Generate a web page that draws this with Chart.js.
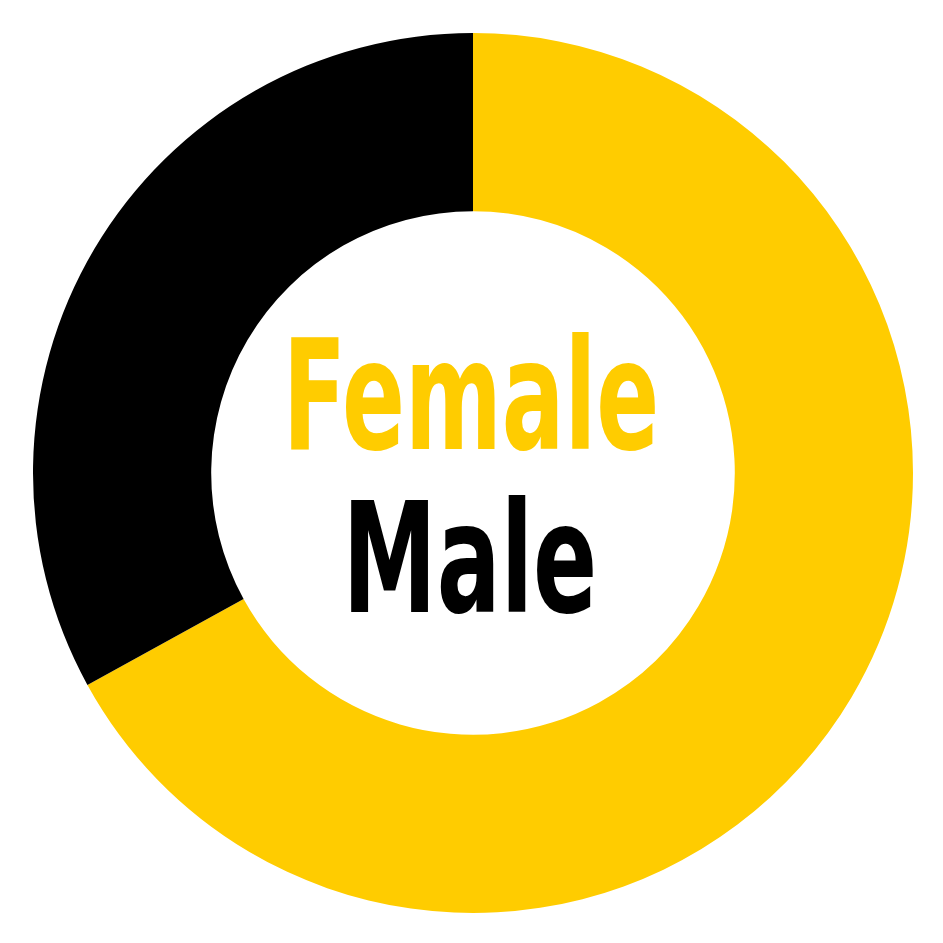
<!DOCTYPE html>
<html lang="en">
<head>
    <meta charset="UTF-8">
    <title>Female / Male</title>
    <script src="https://cdn.jsdelivr.net/npm/chart.js"></script>
    <style>
        html, body { margin: 0; padding: 0; background: #fff; }
        #box { width: 943px; height: 943px; }
    </style>
</head>
<body>
    <div id="box"><canvas id="grafico"></canvas></div>

    <script>
        const categorie = ['Female', 'Male'];
        const valori = [67, 33];
        const colori = ['#FFCC00', '#000000'];

        // center labels, stretched to the size of the condensed type in the picture
        const centerLabels = {
            id: 'centerLabels',
            afterDraw(chart) {
                const c = chart.ctx;
                const righe = [
                    { testo: categorie[0], colore: colori[0], x0: 291, x1: 655, top: 333, base: 449 },
                    { testo: categorie[1], colore: colori[1], x0: 351, x1: 593, top: 495, base: 612 }
                ];
                c.save();
                c.textBaseline = 'alphabetic';
                c.textAlign = 'left';
                c.font = 'bold 100px "DejaVu Sans Condensed", "Liberation Sans Narrow", sans-serif';
                righe.forEach(r => {
                    const m = c.measureText(r.testo);
                    const w = m.actualBoundingBoxLeft + m.actualBoundingBoxRight;
                    const h = m.actualBoundingBoxAscent;
                    const sx = (r.x1 - r.x0) / w;
                    const sy = (r.base - r.top) / h;
                    c.save();
                    c.translate(r.x0, r.base);
                    c.scale(sx, sy);
                    c.fillStyle = r.colore;
                    c.fillText(r.testo, m.actualBoundingBoxLeft, 0);
                    c.restore();
                });
                c.restore();
            }
        };

        const ctx = document.getElementById('grafico').getContext('2d');
        const chart = new Chart(ctx, {
            type: 'doughnut',
            data: {
                labels: categorie,
                datasets: [{
                    data: valori,
                    backgroundColor: colori,
                    borderWidth: 0
                }]
            },
            options: {
                responsive: true,
                maintainAspectRatio: false,
                animation: false,
                cutout: '59.5%',
                layout: { padding: { top: 33, bottom: 30, left: 33, right: 30 } },
                plugins: {
                    legend: { display: false },
                    tooltip: { enabled: false }
                }
            },
            plugins: [centerLabels]
        });
    </script>
</body>
</html>
